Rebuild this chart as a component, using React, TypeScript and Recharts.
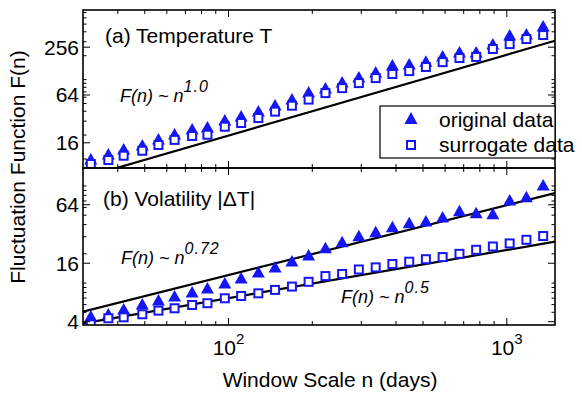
import React from 'react';
import { ComposedChart, Scatter, Line, XAxis, YAxis } from 'recharts';

// window scales n (days), shared by both panels
const windowDays = [32, 37, 42, 49, 56, 64, 74, 84, 97, 111, 128, 147, 169, 194, 223, 256, 294, 338, 388, 446, 512, 588, 676, 776, 891, 1024, 1176, 1351];

// (a) temperature
const tempOriginal = [9.7, 11.2, 13.0, 14.6, 17.4, 20.1, 23.2, 24.6, 30.1, 33.8, 39.1, 46.5, 55.3, 67.6, 76, 90.4, 105, 121, 148, 153, 166, 193, 217, 217, 273, 354, 364, 461];
const tempSurrogate = [8.65, 9.7, 11.0, 12.7, 15.0, 17.4, 19.5, 20.2, 25.5, 28.4, 32.8, 39.5, 46.9, 56.0, 67.6, 78.1, 90.4, 104.5, 117.6, 128, 144, 166, 187, 193, 243, 280, 324, 364];

// (b) volatility
const volOriginal = [4.47, 4.69, 5.28, 5.95, 6.55, 7.2, 7.9, 8.7, 9.8, 11.0, 12.7, 14.3, 16.5, 19.0, 22.5, 26.0, 29.9, 32.9, 37.1, 40.8, 42.6, 46.9, 54.1, 51.6, 50.4, 70, 75.6, 100];
const volSurrogate = [3.76, 4.34, 4.44, 4.77, 5.2, 5.5, 5.95, 6.2, 6.97, 7.36, 7.84, 8.5, 9.2, 10.3, 11.8, 12.4, 13.8, 14.5, 15.7, 16.6, 17.6, 18.5, 20.0, 22.0, 23.8, 25.6, 27.9, 30.5];

// power-law fit lines, given at the ends of the x range
const fitEnds = [30, 1490];
const tempFit = [5.8, 309];
const volFitOriginal = [5.07, 84.4];
const volFitSurrogate = [3.85, 26.7];

// axis ticks
const xTicks = [40, 50, 60, 70, 80, 90, 100, 200, 300, 400, 500, 600, 700, 800, 900, 1000];
const xMajor = [100, 1000];
const tempTicks = [10, 16, 20, 30, 40, 50, 60, 64, 70, 80, 90, 100, 200, 256, 300, 400, 500, 600, 700];
const tempMajor = [16, 64, 256];
const volTicks = [4, 5, 6, 7, 8, 9, 10, 16, 20, 30, 40, 50, 60, 64, 70, 80, 90, 100];
const volMajor = [4, 16, 64];

const BLUE = '#1616f2';
const FONT = '"Liberation Sans", Arial, Helvetica, sans-serif';
const PLOT_W = 472;

const rows = (ys: number[]) => windowDays.map((n, i) => ({ n, v: ys[i] }));
const fitRows = (ys: number[]) => fitEnds.map((n, i) => ({ n, v: ys[i] }));

const Triangle = (p: any) => (
  <polygon
    points={`${p.cx},${p.cy - 7} ${p.cx - 6.5},${p.cy + 4.5} ${p.cx + 6.5},${p.cy + 4.5}`}
    fill={BLUE}
  />
);

const Square = (p: any) => (
  <rect x={p.cx - 4} y={p.cy - 4} width={8} height={8} fill="#fff" stroke={BLUE} strokeWidth={2} />
);

const makeYTick = (majors: number[]) => (props: any) => {
  const { x, y, payload } = props;
  const major = majors.includes(payload.value);
  const len = major ? 7 : 3.5;
  return (
    <g>
      <line x1={x} x2={x + len} y1={y} y2={y} stroke="#000" />
      <line x1={x + PLOT_W - len} x2={x + PLOT_W} y1={y} y2={y} stroke="#000" />
      {major && (
        <text x={x - 4} y={y} textAnchor="end" dominantBaseline="central" fontSize={21} fontFamily={FONT} fill="#000">
          {payload.value}
        </text>
      )}
    </g>
  );
};

const makeXTick = (plotH: number, labels: boolean) => (props: any) => {
  const { x, y, payload } = props;
  const major = xMajor.includes(payload.value);
  const len = major ? 7 : 4;
  return (
    <g>
      <line x1={x} x2={x} y1={y} y2={y - len} stroke="#000" />
      <line x1={x} x2={x} y1={y - plotH} y2={y - plotH + len} stroke="#000" />
      {labels && major && (
        <text x={x} y={y + 30} textAnchor="middle" fontSize={21} fontFamily={FONT} fill="#000">
          10
          <tspan dy={-11} fontSize={15}>
            {Math.round(Math.log10(payload.value))}
          </tspan>
        </text>
      )}
    </g>
  );
};

interface PanelProps {
  width: number;
  height: number;
  margin: { top: number; right: number; bottom: number; left: number };
  plotH: number;
  yDomain: [number, number];
  yTicks: number[];
  yMajor: number[];
  original: number[];
  surrogate: number[];
  fits: number[][];
  xLabels: boolean;
}

const Panel = (p: PanelProps) => (
  <ComposedChart width={p.width} height={p.height} margin={p.margin}>
    <XAxis
      type="number"
      dataKey="n"
      scale="log"
      domain={[30, 1490]}
      allowDataOverflow
      ticks={xTicks}
      interval={0}
      height={1}
      tickSize={0}
      tickMargin={0}
      axisLine={false}
      tickLine={false}
      tick={makeXTick(p.plotH, p.xLabels)}
    />
    <YAxis
      type="number"
      scale="log"
      domain={p.yDomain}
      allowDataOverflow
      ticks={p.yTicks}
      interval={0}
      width={1}
      tickSize={0}
      tickMargin={0}
      axisLine={false}
      tickLine={false}
      tick={makeYTick(p.yMajor)}
    />
    {p.fits.map((f, i) => (
      <Line
        key={i}
        data={fitRows(f)}
        dataKey="v"
        type="linear"
        stroke="#000"
        strokeWidth={2.2}
        dot={false}
        isAnimationActive={false}
      />
    ))}
    <Scatter data={rows(p.original)} dataKey="v" shape={Triangle} isAnimationActive={false} />
    <Scatter data={rows(p.surrogate)} dataKey="v" shape={Square} isAnimationActive={false} />
  </ComposedChart>
);

const FitLabel = ({ x, y, exp }: { x: number; y: number; exp: string }) => (
  <text x={x} y={y} fontSize={18} fontStyle="italic" fontFamily={FONT} fill="#000">
    F(n) ~ n
    <tspan dy={-10} fontSize={16} letterSpacing={1}>
      {exp}
    </tspan>
  </text>
);

export default function App() {
  return (
    <div style={{ position: 'absolute', left: 0, top: 0, width: 582, height: 394, background: '#fff', fontFamily: FONT }}>
      <div style={{ position: 'absolute', left: 0, top: 0 }}>
        <Panel
          width={582}
          height={170}
          margin={{ top: 10, right: 27, bottom: 1, left: 82 }}
          plotH={158}
          yDomain={[7.7, 753]}
          yTicks={tempTicks}
          yMajor={tempMajor}
          original={tempOriginal}
          surrogate={tempSurrogate}
          fits={[tempFit]}
          xLabels={false}
        />
      </div>
      <div style={{ position: 'absolute', left: 0, top: 140 }}>
        <Panel
          width={582}
          height={254}
          margin={{ top: 28, right: 27, bottom: 68, left: 82 }}
          plotH={157}
          yDomain={[3.7, 153]}
          yTicks={volTicks}
          yMajor={volMajor}
          original={volOriginal}
          surrogate={volSurrogate}
          fits={[volFitOriginal, volFitSurrogate]}
          xLabels={true}
        />
      </div>
      <svg width={582} height={394} style={{ position: 'absolute', left: 0, top: 0, pointerEvents: 'none' }} fontFamily={FONT}>
        <rect x={83} y={10} width={472} height={158} fill="none" stroke="#000" strokeWidth={1.6} />
        <rect x={83} y={168} width={472} height={157} fill="none" stroke="#000" strokeWidth={1.6} />
        <text x={105} y={43} fontSize={21} fill="#000">(a) Temperature T</text>
        <text x={103} y={206} fontSize={21} fill="#000">(b) Volatility |ΔT|</text>
        <FitLabel x={120} y={102} exp="1.0" />
        <FitLabel x={121} y={264} exp="0.72" />
        <FitLabel x={341} y={303} exp="0.5" />
        <g>
          <rect x={380} y={106} width={175} height={52} fill="#fff" stroke="#000" strokeWidth={1.2} />
          <polygon points="411,112 404.5,124 417.5,124" fill={BLUE} />
          <text x={439} y={127} fontSize={21} fill="#000">original data</text>
          <rect x={407} y={141} width={8} height={8} fill="#fff" stroke={BLUE} strokeWidth={2} />
          <text x={439} y={152} fontSize={21} fill="#000">surrogate data</text>
        </g>
        <text x={330} y={387} fontSize={21} textAnchor="middle" fill="#000">Window Scale n (days)</text>
        <text x={25} y={167} fontSize={21} textAnchor="middle" fill="#000" transform="rotate(-90 25 167)">
          Fluctuation Function F(n)
        </text>
      </svg>
    </div>
  );
}
